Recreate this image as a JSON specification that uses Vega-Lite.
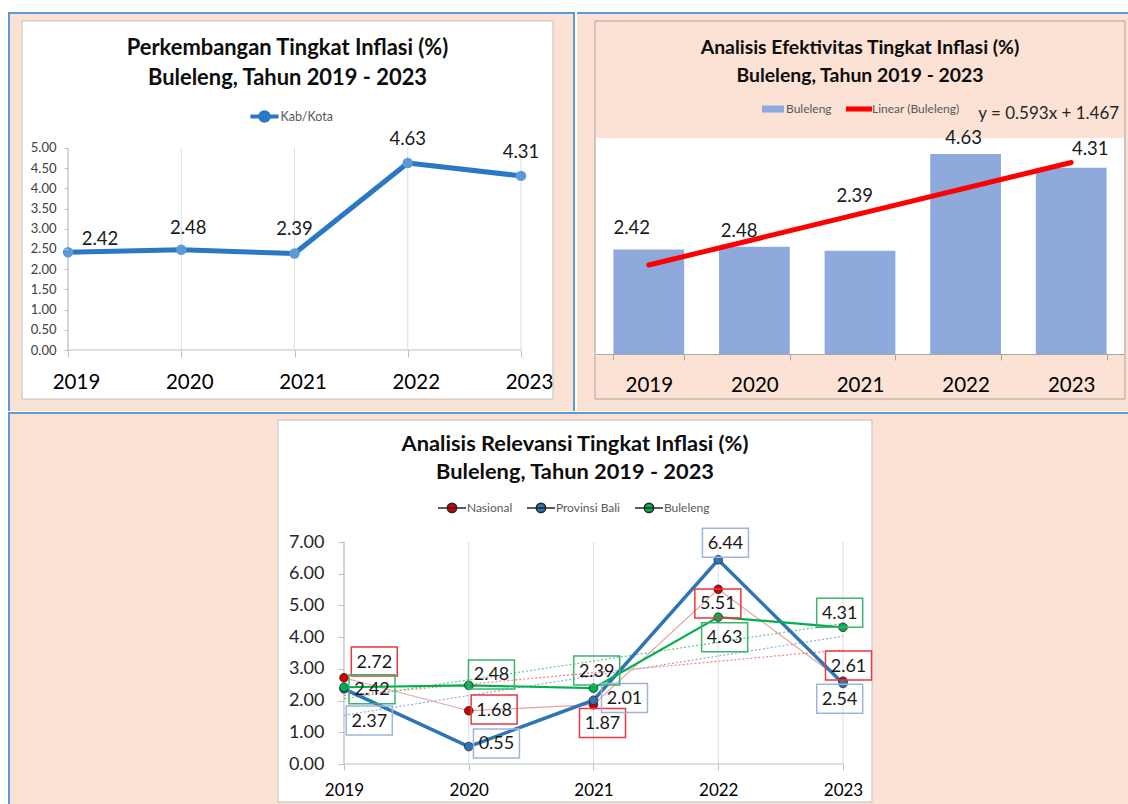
{
"$schema": "https://vega.github.io/schema/vega-lite/v6.json",
"background": "#FFFFFF",
"padding": {"left": 6, "top": 10, "right": 0, "bottom": 0},
"autosize": {"type": "pad"},
"spacing": -3,
"resolve": {"scale": {"color": "independent", "fill": "independent", "stroke": "independent"}, "legend": {"color": "independent", "fill": "independent", "stroke": "independent"}},
"config": {
  "view": {"stroke": null},
  "font": "Lato",
  "text": {"font": "Lato"},
  "axis": {"labelFont": "Lato", "labelOverlap": false, "labelFlush": false, "grid": false, "domain": false},
  "legend": {"labelFont": "Lato"},
  "title": {"font": "Lato"}
},
"datasets": {
  "bul": [
    {"year": 2019, "value": 2.42},
    {"year": 2020, "value": 2.48},
    {"year": 2021, "value": 2.39},
    {"year": 2022, "value": 4.63},
    {"year": 2023, "value": 4.31}
  ],
  "rel": [
    {"year": 2019, "series": "Nasional", "value": 2.72},
    {"year": 2020, "series": "Nasional", "value": 1.68},
    {"year": 2021, "series": "Nasional", "value": 1.87},
    {"year": 2022, "series": "Nasional", "value": 5.51},
    {"year": 2023, "series": "Nasional", "value": 2.61},
    {"year": 2019, "series": "Provinsi Bali", "value": 2.37},
    {"year": 2020, "series": "Provinsi Bali", "value": 0.55},
    {"year": 2021, "series": "Provinsi Bali", "value": 2.01},
    {"year": 2022, "series": "Provinsi Bali", "value": 6.44},
    {"year": 2023, "series": "Provinsi Bali", "value": 2.54},
    {"year": 2019, "series": "Buleleng", "value": 2.42},
    {"year": 2020, "series": "Buleleng", "value": 2.48},
    {"year": 2021, "series": "Buleleng", "value": 2.39},
    {"year": 2022, "series": "Buleleng", "value": 4.63},
    {"year": 2023, "series": "Buleleng", "value": 4.31}
  ],
  "tren": [
    {"year": 2019, "series": "Nasional", "value": 2.156},
    {"year": 2023, "series": "Nasional", "value": 3.6},
    {"year": 2019, "series": "Provinsi Bali", "value": 1.536},
    {"year": 2023, "series": "Provinsi Bali", "value": 4.028},
    {"year": 2019, "series": "Buleleng", "value": 2.06},
    {"year": 2023, "series": "Buleleng", "value": 4.432}
  ]
},
"vconcat": [
  {"spacing": 0,
   "resolve": {"scale": {"color": "independent", "fill": "independent", "stroke": "independent"}, "legend": {"color": "independent", "fill": "independent", "stroke": "independent"}},
   "hconcat": [
    {
      "width": 453, "height": 212,
      "title": {"text": ["Perkembangan Tingkat Inflasi (%)", "Buleleng, Tahun 2019 - 2023"], "fontSize": 21.9, "fontWeight": "bold", "lineHeight": 30, "baseline": "bottom", "offset": -101, "dx": -7, "anchor": "middle", "frame": "group", "color": "#0D0D0D"},
      "layer": [
        {"data": {"values": [{}]}, "mark": {"type": "rect", "fill": "#FBE2D5", "clip": false},
         "encoding": {
           "x": {"datum": 2018.4702, "type": "quantitative", "scale": {"domain": [2019, 2023], "nice": false, "zero": false},
             "axis": {"values": [2019, 2020, 2021, 2022, 2023], "tickCount": 5, "format": "d", "title": null, "grid": false, "domain": false, "ticks": true, "tickSize": 7, "tickColor": "#BFBFBF", "labelFontSize": 20.5, "labelColor": "#000000", "labelPadding": 15, "labelFlush": false, "labelOffset": 8, "labelOverlap": false, "zindex": 1}},
           "x2": {"datum": 2023.4768},
           "y": {"datum": 8.3663, "type": "quantitative", "scale": {"domain": [0, 5.2475], "nice": false, "zero": false},
             "axis": {"values": [0, 0.5, 1, 1.5, 2, 2.5, 3, 3.5, 4, 4.5, 5], "tickCount": 11, "format": ".2f", "title": null, "grid": false, "domain": false, "tickSize": 4, "tickColor": "#BFBFBF", "labelFontSize": 13, "labelColor": "#404040", "labelPadding": 8, "labelOverlap": false, "labelFlush": false, "zindex": 1}},
           "y2": {"datum": -1.5099}}},
        {"data": {"values": [{}]}, "mark": {"type": "rule", "color": "#5B9BD5", "strokeWidth": 2, "clip": false},
         "encoding": {"x": {"datum": 2018.4702, "type": "quantitative"}, "x2": {"datum": 2023.4768}, "y": {"datum": 8.3416, "type": "quantitative"}}},
        {"data": {"values": [{}]}, "mark": {"type": "rule", "color": "#5B9BD5", "strokeWidth": 2, "clip": false},
         "encoding": {"x": {"datum": 2018.479, "type": "quantitative"}, "y": {"datum": 8.3663, "type": "quantitative"}, "y2": {"datum": -1.5099}}},
        {"data": {"values": [{}]}, "mark": {"type": "rule", "color": "#5B9BD5", "strokeWidth": 2, "clip": false},
         "encoding": {"x": {"datum": 2023.468, "type": "quantitative"}, "y": {"datum": 8.3663, "type": "quantitative"}, "y2": {"datum": -1.5099}}},
        {"data": {"values": [{}]}, "mark": {"type": "rect", "fill": "#FFFFFF", "stroke": "#BFBFBF", "strokeWidth": 1, "clip": false},
         "encoding": {"x": {"datum": 2018.5938, "type": "quantitative"}, "x2": {"datum": 2023.2826}, "y": {"datum": 8.1436, "type": "quantitative"}, "y2": {"datum": -1.2129}}},
        {"data": {"name": "bul"}, "mark": {"type": "rule", "color": "#D9DEE8", "strokeWidth": 1},
         "encoding": {"x": {"field": "year", "type": "quantitative"}, "y": {"datum": 0, "type": "quantitative"}, "y2": {"datum": 5}}},
        {"data": {"values": [{}]}, "mark": {"type": "rule", "color": "#BFBFBF", "strokeWidth": 1},
         "encoding": {"x": {"datum": 2019, "type": "quantitative"}, "x2": {"datum": 2023}, "y": {"datum": 0, "type": "quantitative"}}},
        {"data": {"values": [{}]}, "mark": {"type": "rule", "color": "#BFBFBF", "strokeWidth": 1},
         "encoding": {"x": {"datum": 2019, "type": "quantitative"}, "y": {"datum": 0, "type": "quantitative"}, "y2": {"datum": 5}}},
        {"data": {"name": "bul"},
         "encoding": {
           "x": {"field": "year", "type": "quantitative", "axis": {"values": [2019, 2020, 2021, 2022, 2023], "tickCount": 5, "format": "d", "title": null, "grid": false, "domain": false, "ticks": true, "tickSize": 7, "tickColor": "#BFBFBF", "labelFontSize": 20.5, "labelColor": "#000000", "labelPadding": 15, "labelFlush": false, "labelOffset": 8, "labelOverlap": false, "zindex": 1}},
           "y": {"field": "value", "type": "quantitative", "axis": {"values": [0, 0.5, 1, 1.5, 2, 2.5, 3, 3.5, 4, 4.5, 5], "tickCount": 11, "format": ".2f", "title": null, "grid": false, "domain": false, "tickSize": 4, "tickColor": "#BFBFBF", "labelFontSize": 13, "labelColor": "#404040", "labelPadding": 8, "labelOverlap": false, "labelFlush": false, "zindex": 1}}},
         "layer": [
          {"mark": {"type": "line", "strokeWidth": 5, "strokeJoin": "round"},
           "encoding": {
             "color": {"datum": "Kab/Kota", "type": "nominal", "scale": {"domain": ["Kab/Kota"], "range": ["#2A77C5"]},
               "legend": {"orient": "none", "legendX": 185, "legendY": -33, "direction": "horizontal", "title": null, "labelFontSize": 12.5, "labelColor": "#595959", "labelOffset": 4.5, "padding": 0, "symbolSize": 350,
                 "encode": {"symbols": {"update": {"shape": {"value": "M-1.5,0H1.5M-0.45,0A0.45,0.45 0 1,0 0.45,0A0.45,0.45 0 1,0 -0.45,0Z"}, "size": {"value": 350}, "stroke": {"value": "#2A77C5"}, "strokeWidth": {"value": 4}, "fill": {"value": "#5B9BD5"}, "opacity": {"value": 1}}}}}}}},
          {"mark": {"type": "circle", "size": 110, "color": "#5B9BD5", "opacity": 1}},
          {"transform": [{"filter": "datum.year === 2019"}], "mark": {"type": "text", "dx": 32, "dy": -13, "fontSize": 18.5, "color": "#1A1A1A"},
           "encoding": {"text": {"field": "value", "type": "quantitative", "format": ".2f"}}},
          {"transform": [{"filter": "datum.year === 2020"}], "mark": {"type": "text", "dx": 7, "dy": -22, "fontSize": 18.5, "color": "#1A1A1A"},
           "encoding": {"text": {"field": "value", "type": "quantitative", "format": ".2f"}}},
          {"transform": [{"filter": "datum.year >= 2021"}], "mark": {"type": "text", "dx": 0, "dy": -24, "fontSize": 18.5, "color": "#1A1A1A"},
           "encoding": {"text": {"field": "value", "type": "quantitative", "format": ".2f"}}}
         ]}
      ]
    },
    {
      "width": 528, "height": 216,
      "title": {"text": ["Analisis Efektivitas Tingkat Inflasi (%)", "Buleleng, Tahun 2019 - 2023"], "fontSize": 19.4, "fontWeight": "bold", "lineHeight": 28, "baseline": "bottom", "offset": -93.5, "dx": 0, "anchor": "middle", "frame": "group", "color": "#0D0D0D"},
      "resolve": {"scale": {"x": "independent"}, "axis": {"x": "independent"}},
      "layer": [
        {"data": {"values": [{}]}, "layer": [
          {"mark": {"type": "rect", "fill": "#FBE2D5", "clip": false},
           "encoding": {
             "x": {"datum": -0.03598, "type": "quantitative", "scale": {"domain": [0, 1], "nice": false, "zero": false}, "axis": null},
             "x2": {"datum": 1.01136},
             "y": {"datum": 7.9167, "type": "quantitative", "scale": {"domain": [0, 5], "nice": false, "zero": false}, "axis": null},
             "y2": {"datum": -1.3194}}},
          {"mark": {"type": "rule", "color": "#5B9BD5", "strokeWidth": 2, "clip": false},
           "encoding": {"x": {"datum": -0.03598, "type": "quantitative", "axis": null}, "x2": {"datum": 1.01136}, "y": {"datum": 7.8935, "type": "quantitative", "axis": null}}},
          {"mark": {"type": "rect", "fill": "#FBE2D5", "stroke": "#A6A6A6", "strokeWidth": 1, "clip": false},
           "encoding": {"x": {"datum": -0.0019, "type": "quantitative", "axis": null}, "x2": {"datum": 1.0019}, "y": {"datum": 7.7083, "type": "quantitative", "axis": null}, "y2": {"datum": -1.0417}}},
          {"mark": {"type": "rect", "fill": "#FFFFFF", "clip": false},
           "encoding": {"x": {"datum": 0, "type": "quantitative", "axis": null}, "x2": {"datum": 1}, "y": {"datum": 0, "type": "quantitative", "axis": null}, "y2": {"datum": 5}}}
        ]},
        {"layer": [
          {"data": {"name": "bul"}, "mark": {"type": "bar"},
           "encoding": {
             "x": {"field": "year", "type": "ordinal", "scale": {"type": "band", "paddingInner": 0.33, "paddingOuter": 0.165},
               "axis": {"title": null, "orient": "bottom", "domain": true, "tickBand": "extent", "tickSize": 6, "tickColor": "#A6A6A6", "domainColor": "#A6A6A6", "labelFontSize": 20.5, "labelColor": "#000000", "labelPadding": 15, "labelAngle": 0, "zindex": 1}},
             "y": {"field": "value", "type": "quantitative", "scale": {"domain": [0, 5], "nice": false, "zero": false}, "axis": null},
             "color": {"datum": "Buleleng", "type": "nominal", "scale": {"domain": ["Buleleng", "Linear (Buleleng)"], "range": ["#8EA9DB", "#FF0000"]},
               "legend": {"orient": "none", "legendX": 166, "legendY": -40, "direction": "horizontal", "title": null, "labelFontSize": 12, "labelColor": "#595959", "labelOffset": 2, "columnPadding": 14, "padding": 0, "symbolSize": 484,
                 "encode": {"symbols": {"update": {"shape": {"signal": "datum.value === 'Buleleng' ? 'M-1,-0.32H1V0.32H-1Z' : 'M-1.18,-0.23H1.18V0.23H-1.18Z'"}, "size": {"value": 484}, "fill": {"signal": "datum.value === 'Buleleng' ? '#8EA9DB' : '#FF0000'"}, "stroke": {"value": "transparent"}, "strokeWidth": {"value": 0}, "opacity": {"value": 1}}}}}}}},
          {"data": {"name": "tren"}, "transform": [{"filter": "datum.series === 'Buleleng'"}], "mark": {"type": "line", "strokeWidth": 5, "strokeCap": "round"},
           "encoding": {"x": {"field": "year", "type": "ordinal"}, "y": {"field": "value", "type": "quantitative", "axis": null}, "color": {"datum": "Linear (Buleleng)", "type": "nominal"}}},
          {"data": {"name": "bul"}, "transform": [{"filter": "datum.year === 2019"}], "mark": {"type": "text", "dx": -17, "dy": -21.8, "fontSize": 18.5, "color": "#1A1A1A"},
           "encoding": {"x": {"field": "year", "type": "ordinal"}, "y": {"field": "value", "type": "quantitative", "axis": null}, "text": {"field": "value", "type": "quantitative", "format": ".2f"}}},
          {"data": {"name": "bul"}, "transform": [{"filter": "datum.year === 2020"}], "mark": {"type": "text", "dx": -15.3, "dy": -15.9, "fontSize": 18.5, "color": "#1A1A1A"},
           "encoding": {"x": {"field": "year", "type": "ordinal"}, "y": {"field": "value", "type": "quantitative", "axis": null}, "text": {"field": "value", "type": "quantitative", "format": ".2f"}}},
          {"data": {"name": "bul"}, "transform": [{"filter": "datum.year === 2021"}], "mark": {"type": "text", "dx": -5.2, "dy": -54.8, "fontSize": 18.5, "color": "#1A1A1A"},
           "encoding": {"x": {"field": "year", "type": "ordinal"}, "y": {"field": "value", "type": "quantitative", "axis": null}, "text": {"field": "value", "type": "quantitative", "format": ".2f"}}},
          {"data": {"name": "bul"}, "transform": [{"filter": "datum.year === 2022"}], "mark": {"type": "text", "dx": -2, "dy": -16.3, "fontSize": 18.5, "color": "#1A1A1A"},
           "encoding": {"x": {"field": "year", "type": "ordinal"}, "y": {"field": "value", "type": "quantitative", "axis": null}, "text": {"field": "value", "type": "quantitative", "format": ".2f"}}},
          {"data": {"name": "bul"}, "transform": [{"filter": "datum.year === 2023"}], "mark": {"type": "text", "dx": 19, "dy": -18.5, "fontSize": 18.5, "color": "#1A1A1A"},
           "encoding": {"x": {"field": "year", "type": "ordinal"}, "y": {"field": "value", "type": "quantitative", "axis": null}, "text": {"field": "value", "type": "quantitative", "format": ".2f"}}},
          {"data": {"values": [{}]}, "mark": {"type": "text", "text": "y = 0.593x + 1.467", "align": "right", "dx": 48, "fontSize": 17, "color": "#262626", "clip": false},
           "encoding": {"x": {"datum": 2023, "type": "ordinal"}, "y": {"datum": 5.556, "type": "quantitative", "axis": null}}}
        ]}
      ]
    }
  ]},
  {
    "width": 1054, "height": 222,
    "title": {"text": ["Analisis Relevansi Tingkat Inflasi (%)", "Buleleng, Tahun 2019 - 2023"], "fontSize": 21.8, "fontWeight": "bold", "lineHeight": 28.5, "baseline": "bottom", "offset": -95, "dx": -20, "anchor": "middle", "frame": "group", "color": "#0D0D0D"},
    "layer": [
      {"data": {"values": [{}]}, "mark": {"type": "rect", "fill": "#FBE2D5", "clip": false},
       "encoding": {
         "x": {"datum": 2016.3066, "type": "quantitative", "scale": {"domain": [2016.7876, 2025.2365], "nice": false, "zero": false},
           "axis": {"values": [2019, 2020, 2021, 2022, 2023], "tickCount": 9, "format": "d", "labelExpr": "datum.value >= 2019 && datum.value <= 2023 ? datum.label : ''", "tickOpacity": {"condition": {"test": "datum.value < 2019 || datum.value > 2023", "value": 0}, "value": 1}, "title": null, "grid": false, "domain": false, "tickSize": 6, "tickColor": "#BFBFBF", "labelFontSize": 17, "labelColor": "#000000", "labelPadding": 12.7, "labelFlush": false, "labelOverlap": false, "zindex": 1}},
         "x2": {"datum": 2025.2846},
         "y": {"datum": 11.0991, "type": "quantitative", "scale": {"domain": [0, 7], "nice": false, "zero": false},
           "axis": {"values": [0, 1, 2, 3, 4, 5, 6, 7], "tickCount": 8, "offset": -276, "format": ".2f", "title": null, "grid": false, "domain": false, "tickSize": 6, "tickColor": "#BFBFBF", "labelFontSize": 18, "labelColor": "#262626", "labelPadding": 14, "labelOverlap": false, "labelFlush": false, "zindex": 1}},
         "y2": {"datum": -1.2928}}},
      {"data": {"values": [{}]}, "mark": {"type": "rule", "color": "#5B9BD5", "strokeWidth": 2, "clip": false},
       "encoding": {"x": {"datum": 2016.3066, "type": "quantitative"}, "x2": {"datum": 2025.2846}, "y": {"datum": 11.0676, "type": "quantitative"}}},
      {"data": {"values": [{}]}, "mark": {"type": "rule", "color": "#5B9BD5", "strokeWidth": 2, "clip": false},
       "encoding": {"x": {"datum": 2016.3146, "type": "quantitative"}, "y": {"datum": 11.0991, "type": "quantitative"}, "y2": {"datum": -1.2928}}},
      {"data": {"values": [{}]}, "mark": {"type": "rect", "fill": "#FFFFFF", "stroke": "#BFBFBF", "strokeWidth": 1, "clip": false},
       "encoding": {"x": {"datum": 2018.4709, "type": "quantitative"}, "x2": {"datum": 2023.2325}, "y": {"datum": 10.847, "type": "quantitative"}, "y2": {"datum": -1.1982}}},
      {"data": {"name": "bul"}, "mark": {"type": "rule", "color": "#D9DEE8", "strokeWidth": 1},
       "encoding": {"x": {"field": "year", "type": "quantitative"}, "y": {"datum": 0, "type": "quantitative"}, "y2": {"datum": 7}}},
      {"data": {"values": [{}]}, "mark": {"type": "rule", "color": "#BFBFBF", "strokeWidth": 1},
       "encoding": {"x": {"datum": 2019, "type": "quantitative"}, "x2": {"datum": 2023}, "y": {"datum": 0, "type": "quantitative"}}},
      {"data": {"values": [{}]}, "mark": {"type": "rule", "color": "#BFBFBF", "strokeWidth": 1},
       "encoding": {"x": {"datum": 2019, "type": "quantitative"}, "y": {"datum": 0, "type": "quantitative"}, "y2": {"datum": 7}}},
      {"data": {"name": "rel"},
       "encoding": {
         "x": {"field": "year", "type": "quantitative", "axis": {"values": [2019, 2020, 2021, 2022, 2023], "tickCount": 9, "format": "d", "labelExpr": "datum.value >= 2019 && datum.value <= 2023 ? datum.label : ''", "tickOpacity": {"condition": {"test": "datum.value < 2019 || datum.value > 2023", "value": 0}, "value": 1}, "title": null, "grid": false, "domain": false, "tickSize": 6, "tickColor": "#BFBFBF", "labelFontSize": 17, "labelColor": "#000000", "labelPadding": 12.7, "labelFlush": false, "labelOverlap": false, "zindex": 1}},
         "y": {"field": "value", "type": "quantitative", "axis": {"values": [0, 1, 2, 3, 4, 5, 6, 7], "tickCount": 8, "offset": -276, "format": ".2f", "title": null, "grid": false, "domain": false, "tickSize": 6, "tickColor": "#BFBFBF", "labelFontSize": 18, "labelColor": "#262626", "labelPadding": 14, "labelOverlap": false, "labelFlush": false, "zindex": 1}}},
       "layer": [
        {"data": {"name": "tren"}, "transform": [{"filter": "datum.series === 'Nasional'"}], "mark": {"type": "line", "strokeWidth": 1.2, "strokeDash": [2, 2], "color": "#FF7C80"}},
        {"data": {"name": "tren"}, "transform": [{"filter": "datum.series === 'Provinsi Bali'"}], "mark": {"type": "line", "strokeWidth": 1.2, "strokeDash": [2, 2], "color": "#8FAADC"}},
        {"data": {"name": "tren"}, "transform": [{"filter": "datum.series === 'Buleleng'"}], "mark": {"type": "line", "strokeWidth": 1.2, "strokeDash": [2, 2], "color": "#6CC58C"}},
        {"transform": [{"filter": "datum.series === 'Nasional'"}], "mark": {"type": "line", "strokeWidth": 1.2, "color": "#E8A3A3"}},
        {"transform": [{"filter": "datum.series === 'Provinsi Bali'"}], "mark": {"type": "line", "strokeWidth": 3.5, "color": "#2E75B6"}},
        {"transform": [{"filter": "datum.series === 'Buleleng'"}], "mark": {"type": "line", "strokeWidth": 2.2, "color": "#00B050"}},
        {"mark": {"type": "circle", "size": 75, "stroke": "#262626", "strokeWidth": 0.8, "opacity": 1},
         "encoding": {
           "color": {"field": "series", "type": "nominal", "scale": {"domain": ["Nasional", "Provinsi Bali", "Buleleng"], "range": ["#D00000", "#2E75B6", "#00B050"]},
             "legend": {"orient": "none", "legendX": 373.5, "legendY": -45, "direction": "horizontal", "title": null, "labelFontSize": 12, "labelColor": "#595959", "labelOffset": 4.4, "columnPadding": 11, "padding": 0, "symbolSize": 350,
               "symbolType": "M-1.5,0H1.5M-0.5,0A0.5,0.5 0 1,0 0.5,0A0.5,0.5 0 1,0 -0.5,0Z",
               "encode": {"symbols": {"update": {
                 "shape": {"value": "M-1.5,0H1.5M-0.5,0A0.5,0.5 0 1,0 0.5,0A0.5,0.5 0 1,0 -0.5,0Z"},
                 "size": {"value": 350},
                 "stroke": {"signal": "datum.value === 'Nasional' ? '#E8A3A3' : datum.value === 'Provinsi Bali' ? '#2E75B6' : '#00B050'"},
                 "strokeWidth": {"signal": "datum.value === 'Provinsi Bali' ? 3 : datum.value === 'Nasional' ? 1.2 : 2"},
                 "fill": {"signal": "datum.value === 'Nasional' ? '#D00000' : datum.value === 'Provinsi Bali' ? '#2E75B6' : '#00B050'"},
                 "opacity": {"value": 1}}}}}}}},
        {"transform": [{"filter": "datum.series === 'Nasional' && datum.year === 2019"}],
         "layer": [{"mark": {"type": "point", "shape": "M0.73,-3.07h4.6v2.9h-4.6z", "size": 400, "filled": false, "stroke": "#E8393C", "strokeWidth": 1.5, "opacity": 1}},
                   {"mark": {"type": "text", "dx": 30.3, "dy": -15.2, "fontSize": 18, "color": "#1A1A1A"}, "encoding": {"text": {"field": "value", "type": "quantitative", "format": ".2f"}}}]},
        {"transform": [{"filter": "datum.series === 'Nasional' && datum.year === 2020"}],
         "layer": [{"mark": {"type": "point", "shape": "M0.24,-1.57h4.6v2.9h-4.6z", "size": 400, "filled": false, "stroke": "#E8393C", "strokeWidth": 1.5, "opacity": 1}},
                   {"mark": {"type": "text", "dx": 25.4, "dy": -0.2, "fontSize": 18, "color": "#1A1A1A"}, "encoding": {"text": {"field": "value", "type": "quantitative", "format": ".2f"}}}]},
        {"transform": [{"filter": "datum.series === 'Nasional' && datum.year === 2021"}],
         "layer": [{"mark": {"type": "point", "shape": "M-1.4,0.38h4.6v2.9h-4.6z", "size": 400, "filled": false, "stroke": "#E8393C", "strokeWidth": 1.5, "opacity": 1}},
                   {"mark": {"type": "text", "dx": 9, "dy": 19.3, "fontSize": 18, "color": "#1A1A1A"}, "encoding": {"text": {"field": "value", "type": "quantitative", "format": ".2f"}}}]},
        {"transform": [{"filter": "datum.series === 'Nasional' && datum.year === 2022"}],
         "layer": [{"mark": {"type": "point", "shape": "M-2.34,-0.03h4.6v2.9h-4.6z", "size": 400, "filled": false, "stroke": "#E8393C", "strokeWidth": 1.5, "opacity": 1}},
                   {"mark": {"type": "text", "dx": -0.4, "dy": 15.2, "fontSize": 18, "color": "#1A1A1A"}, "encoding": {"text": {"field": "value", "type": "quantitative", "format": ".2f"}}}]},
        {"transform": [{"filter": "datum.series === 'Nasional' && datum.year === 2023"}],
         "layer": [{"mark": {"type": "point", "shape": "M-1.75,-3.02h4.6v2.9h-4.6z", "size": 400, "filled": false, "stroke": "#E8393C", "strokeWidth": 1.5, "opacity": 1}},
                   {"mark": {"type": "text", "dx": 5.5, "dy": -14.7, "fontSize": 18, "color": "#1A1A1A"}, "encoding": {"text": {"field": "value", "type": "quantitative", "format": ".2f"}}}]},
        {"transform": [{"filter": "datum.series === 'Provinsi Bali' && datum.year === 2019"}],
         "layer": [{"mark": {"type": "point", "shape": "M0.23,1.72h4.6v2.9h-4.6z", "size": 400, "filled": false, "stroke": "#9DB5DC", "strokeWidth": 1.5, "opacity": 1}},
                   {"mark": {"type": "text", "dx": 25.3, "dy": 32.7, "fontSize": 18, "color": "#1A1A1A"}, "encoding": {"text": {"field": "value", "type": "quantitative", "format": ".2f"}}}]},
        {"transform": [{"filter": "datum.series === 'Provinsi Bali' && datum.year === 2020"}],
         "layer": [{"mark": {"type": "point", "shape": "M0.47,-1.76h4.6v2.9h-4.6z", "size": 400, "filled": false, "stroke": "#9DB5DC", "strokeWidth": 1.5, "opacity": 1}},
                   {"mark": {"type": "text", "dx": 27.7, "dy": -2.1, "fontSize": 18, "color": "#1A1A1A"}, "encoding": {"text": {"field": "value", "type": "quantitative", "format": ".2f"}}}]},
        {"transform": [{"filter": "datum.series === 'Provinsi Bali' && datum.year === 2021"}],
         "layer": [{"mark": {"type": "point", "shape": "M0.8,-1.68h4.6v2.9h-4.6z", "size": 400, "filled": false, "stroke": "#9DB5DC", "strokeWidth": 1.5, "opacity": 1}},
                   {"mark": {"type": "text", "dx": 31, "dy": -1.3, "fontSize": 18, "color": "#1A1A1A"}, "encoding": {"text": {"field": "value", "type": "quantitative", "format": ".2f"}}}]},
        {"transform": [{"filter": "datum.series === 'Provinsi Bali' && datum.year === 2022"}],
         "layer": [{"mark": {"type": "point", "shape": "M-1.58,-3.15h4.6v2.9h-4.6z", "size": 400, "filled": false, "stroke": "#9DB5DC", "strokeWidth": 1.5, "opacity": 1}},
                   {"mark": {"type": "text", "dx": 7.2, "dy": -16, "fontSize": 18, "color": "#1A1A1A"}, "encoding": {"text": {"field": "value", "type": "quantitative", "format": ".2f"}}}]},
        {"transform": [{"filter": "datum.series === 'Provinsi Bali' && datum.year === 2023"}],
         "layer": [{"mark": {"type": "point", "shape": "M-2.63,0.08h4.6v2.9h-4.6z", "size": 400, "filled": false, "stroke": "#9DB5DC", "strokeWidth": 1.5, "opacity": 1}},
                   {"mark": {"type": "text", "dx": -3.3, "dy": 16.3, "fontSize": 18, "color": "#1A1A1A"}, "encoding": {"text": {"field": "value", "type": "quantitative", "format": ".2f"}}}]},
        {"transform": [{"filter": "datum.series === 'Buleleng' && datum.year === 2019"}],
         "layer": [{"mark": {"type": "point", "shape": "M0.5,-1.25h4.6v2.9h-4.6z", "size": 400, "filled": false, "stroke": "#3DB46D", "strokeWidth": 1.5, "opacity": 1}},
                   {"mark": {"type": "text", "dx": 28, "dy": 3, "fontSize": 18, "color": "#1A1A1A"}, "encoding": {"text": {"field": "value", "type": "quantitative", "format": ".2f"}}}]},
        {"transform": [{"filter": "datum.series === 'Buleleng' && datum.year === 2020"}],
         "layer": [{"mark": {"type": "point", "shape": "M-0.03,-2.54h4.6v2.9h-4.6z", "size": 400, "filled": false, "stroke": "#3DB46D", "strokeWidth": 1.5, "opacity": 1}},
                   {"mark": {"type": "text", "dx": 22.75, "dy": -9.9, "fontSize": 18, "color": "#1A1A1A"}, "encoding": {"text": {"field": "value", "type": "quantitative", "format": ".2f"}}}]},
        {"transform": [{"filter": "datum.series === 'Buleleng' && datum.year === 2021"}],
         "layer": [{"mark": {"type": "point", "shape": "M-1.98,-3.22h4.6v2.9h-4.6z", "size": 400, "filled": false, "stroke": "#3DB46D", "strokeWidth": 1.5, "opacity": 1}},
                   {"mark": {"type": "text", "dx": 3.2, "dy": -16.7, "fontSize": 18, "color": "#1A1A1A"}, "encoding": {"text": {"field": "value", "type": "quantitative", "format": ".2f"}}}]},
        {"transform": [{"filter": "datum.series === 'Buleleng' && datum.year === 2022"}],
         "layer": [{"mark": {"type": "point", "shape": "M-1.66,0.55h4.6v2.9h-4.6z", "size": 400, "filled": false, "stroke": "#3DB46D", "strokeWidth": 1.5, "opacity": 1}},
                   {"mark": {"type": "text", "dx": 6.4, "dy": 21, "fontSize": 18, "color": "#1A1A1A"}, "encoding": {"text": {"field": "value", "type": "quantitative", "format": ".2f"}}}]},
        {"transform": [{"filter": "datum.series === 'Buleleng' && datum.year === 2023"}],
         "layer": [{"mark": {"type": "point", "shape": "M-2.63,-2.9h4.6v2.9h-4.6z", "size": 400, "filled": false, "stroke": "#3DB46D", "strokeWidth": 1.5, "opacity": 1}},
                   {"mark": {"type": "text", "dx": -3.3, "dy": -13.5, "fontSize": 18, "color": "#1A1A1A"}, "encoding": {"text": {"field": "value", "type": "quantitative", "format": ".2f"}}}]}
       ]}
    ]
  }
]
}
